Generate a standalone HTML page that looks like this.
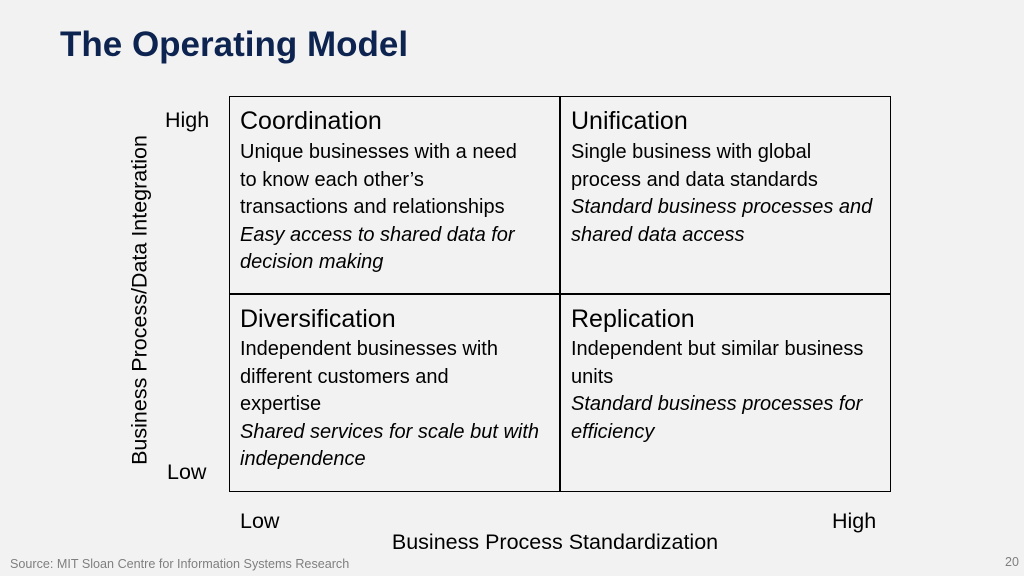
<!DOCTYPE html>
<html><head><meta charset="utf-8"><style>
body{margin:0;width:1024px;height:576px;background:#f2f2f2;position:relative;overflow:hidden;font-family:"Liberation Sans",sans-serif;color:#000}
.a{position:absolute;white-space:nowrap;line-height:1}
.t{font-size:35px;font-weight:bold;color:#0d2350;left:60px;top:27px}
.h{font-size:25px}
.b{font-size:20px;line-height:27.5px}
.ax{font-size:21.5px}
i{font-style:italic}
</style></head><body>
<div class="a t">The Operating Model</div>
<div style="position:absolute;left:229px;top:96px;width:660px;height:394px;border:1.5px solid #000"></div>
<div style="position:absolute;left:559px;top:96px;width:1.5px;height:396px;background:#000"></div>
<div style="position:absolute;left:229px;top:293px;width:662px;height:1.5px;background:#000"></div>

<div class="a h" style="left:240px;top:109px">Coordination</div>
<div class="a b" style="left:240px;top:139px">Unique businesses with a need<br>to know each other’s<br>transactions and relationships<br><i>Easy access to shared data for<br>decision making</i></div>
<div class="a h" style="left:571px;top:109px">Unification</div>
<div class="a b" style="left:571px;top:139px">Single business with global<br>process and data standards<br><i>Standard business processes and<br>shared data access</i></div>
<div class="a h" style="left:240px;top:307px">Diversification</div>
<div class="a b" style="left:240px;top:336px">Independent businesses with<br>different customers and<br>expertise<br><i>Shared services for scale but with<br>independence</i></div>
<div class="a h" style="left:571px;top:307px">Replication</div>
<div class="a b" style="left:571px;top:336px">Independent but similar business<br>units<br><i>Standard business processes for<br>efficiency</i></div>

<div class="a ax" style="left:165px;top:110px">High</div>
<div class="a ax" style="left:167px;top:462px">Low</div>
<div class="a ax" style="left:140px;top:300px;transform:translate(-50%,-50%) rotate(-90deg)">Business Process/Data Integration</div>
<div class="a ax" style="left:240px;top:511px">Low</div>
<div class="a ax" style="left:832px;top:511px">High</div>
<div class="a ax" style="left:555px;top:532px;transform:translateX(-50%)">Business Process Standardization</div>
<div class="a" style="left:10px;top:558px;font-size:12.6px;color:#7f7f7f">Source: MIT Sloan Centre for Information Systems Research</div>
<div class="a" style="left:1005px;top:556px;font-size:12.5px;color:#7f7f7f">20</div>
</body></html>
